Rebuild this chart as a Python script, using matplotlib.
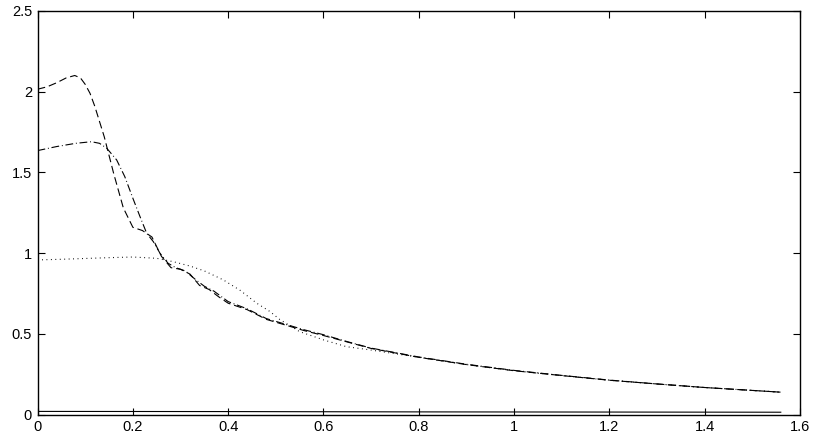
import numpy as np
import matplotlib.pyplot as plt

plt.rcParams['font.family'] = ['Liberation Sans', 'DejaVu Sans']

# values
x_dash = [0, 0.02, 0.04, 0.06, 0.078, 0.09, 0.1, 0.11, 0.12, 0.14, 0.16, 0.18,
          0.2, 0.22, 0.24, 0.26, 0.28, 0.3, 0.32, 0.34, 0.36, 0.38, 0.4, 0.44,
          0.48, 0.52, 0.56, 0.6, 0.65, 0.7, 0.8, 0.9, 1.0, 1.1, 1.2, 1.3, 1.4,
          1.5, 1.56]
y_dash = [2.015, 2.03, 2.055, 2.085, 2.10, 2.085, 2.045, 1.99, 1.91, 1.72, 1.49,
          1.28, 1.16, 1.14, 1.10, 0.98, 0.91, 0.90, 0.87, 0.80, 0.775, 0.73, 0.69,
          0.65, 0.59, 0.555, 0.52, 0.49, 0.45, 0.41, 0.355, 0.31, 0.272, 0.242,
          0.213, 0.19, 0.168, 0.15, 0.139]

x_dashdot = [0, 0.04, 0.08, 0.113, 0.13, 0.145, 0.166, 0.183, 0.2, 0.215, 0.229,
             0.243, 0.257, 0.274, 0.29, 0.31, 0.33, 0.35, 0.37, 0.4, 0.44, 0.48,
             0.52, 0.56, 0.6, 0.65, 0.7, 0.8, 0.9, 1.0, 1.1, 1.2, 1.3, 1.4, 1.5,
             1.56]
y_dashdot = [1.635, 1.66, 1.68, 1.69, 1.68, 1.65, 1.577, 1.474, 1.34, 1.226, 1.123,
             1.071, 0.999, 0.937, 0.91, 0.89, 0.84, 0.795, 0.765, 0.70, 0.655, 0.595,
             0.56, 0.525, 0.495, 0.452, 0.412, 0.357, 0.312, 0.274, 0.243, 0.214,
             0.19, 0.168, 0.15, 0.139]

x_dot = [0, 0.05, 0.1, 0.15, 0.2, 0.25, 0.285, 0.32, 0.35, 0.39, 0.425, 0.46,
         0.488, 0.508, 0.55, 0.6, 0.648, 0.7, 0.8, 0.9, 1.0, 1.1, 1.2, 1.3, 1.4,
         1.5, 1.56]
y_dot = [0.958, 0.962, 0.967, 0.972, 0.976, 0.968, 0.947, 0.92, 0.89, 0.834, 0.77,
         0.69, 0.638, 0.59, 0.514, 0.463, 0.421, 0.40, 0.355, 0.31, 0.272, 0.242,
         0.213, 0.19, 0.168, 0.15, 0.139]

x_solid = [0, 0.4, 0.8, 1.2, 1.56]
y_solid = [0.02, 0.019, 0.017, 0.016, 0.015]

fig = plt.figure(figsize=(8.17, 4.36), dpi=100)
ax = fig.add_axes([0.046, 0.049, 0.933, 0.926])

ax.plot(x_solid, y_solid, color='black', lw=0.8)
ax.plot(x_dash, y_dash, color='black', lw=0.8, dashes=(7, 3.5))
ax.plot(x_dashdot, y_dashdot, color='black', lw=0.8, dashes=(7, 2.5, 0.8, 2.5))
ax.plot(x_dot, y_dot, color='black', lw=0.8, dashes=(0.8, 3.2))

ax.set_xlim(0, 1.6)
ax.set_ylim(0, 2.5)
ax.set_xticks(np.arange(0, 1.61, 0.2))
ax.set_yticks(np.arange(0, 2.51, 0.5))
ax.set_xticklabels(['0', '0.2', '0.4', '0.6', '0.8', '1', '1.2', '1.4', '1.6'])
ax.set_yticklabels(['0', '0.5', '1', '1.5', '2', '2.5'])
ax.tick_params(direction='in', top=True, right=True, length=5, width=0.8,
               labelsize=10.5, pad=4)
for s in ax.spines.values():
    s.set_linewidth(1.0)

plt.savefig('out.png', dpi=100)
